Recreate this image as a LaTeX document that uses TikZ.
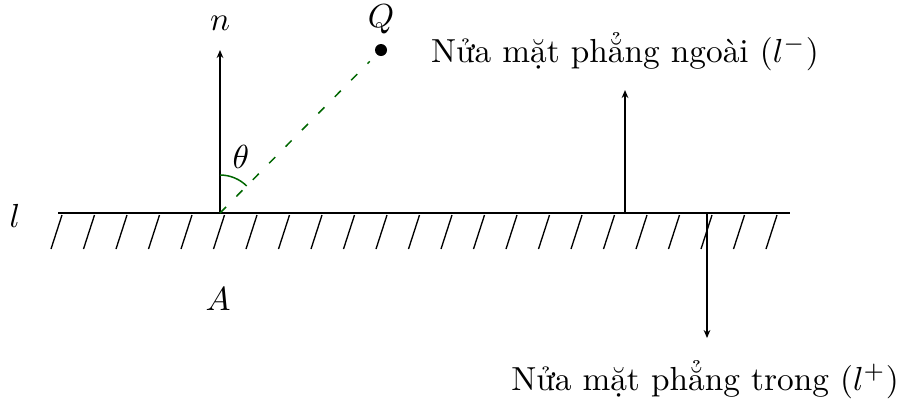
\documentclass[tikz,border=0pt]{standalone}
\usepackage{fontspec}
\usepackage{amsmath}
\usetikzlibrary{positioning,arrows.meta,calc}

\begin{document}
\begin{tikzpicture}[
  x=0.3pt, y=-0.3pt,
  >={Stealth[length=2.4pt, width=2pt]},
  edge/.style={line width=0.45pt, black},
  hatch/.style={line width=0.4pt, black},
  arr/.style={->, line width=0.4pt, black},
  seg/.style={dash pattern=on 2.6pt off 4.4pt, line width=0.45pt, green!40!black},
  ang/.style={line width=0.45pt, green!40!black},
  lbl/.style={inner sep=0pt},
]
\useasboundingbox (0,0) rectangle (902,398);

%% ---------- the line l and its hatching ----------
\coordinate (lstart) at (58,213);
\coordinate (lend) at (790,213);
\coordinate (A) at (220,213);
\draw[edge] (lstart) -- (lend);
\foreach \k in {0,...,22}
  \draw[hatch] ({62+32.5*\k},215) -- ++(-11,34);
\node[lbl] (ltxt) at (15,216) {$l$};
\node[lbl] (atxt) at (218,299) {$A$};

%% ---------- normal n, point Q and angle theta ----------
\coordinate (ntip) at (220,50);
\draw[arr] (A) -- (ntip);
\node[lbl] (ntxt) at (220,23) {$n$};

\fill[black] (381,50) circle[radius=6] coordinate (Q);
\node[lbl] (qtxt) at (381,19) {$Q$};
\coordinate (qend) at ($(A)!0.93!(Q)$);
\draw[seg] (A) -- (qend);

\draw[ang] ($(A)+(0,-38)$) arc[start angle=-90, end angle=-45.4, radius=38];
\node[lbl] (ttxt) at (241,157) {$\theta$};

%% ---------- the two half planes ----------
\coordinate (outbase) at (625,213);
\coordinate (outtip) at (625,90);
\draw[arr] (outbase) -- (outtip);
\node[lbl] (outtxt) at (625,52) {Nửa mặt phẳng ngoài $(l^{-})$};

\coordinate (inbase) at (707,213);
\coordinate (intip) at (707,338);
\draw[arr] (inbase) -- (intip);
\node[lbl] (intxt) at (705,380) {Nửa mặt phẳng trong $(l^{+})$};

\end{tikzpicture}
\end{document}
